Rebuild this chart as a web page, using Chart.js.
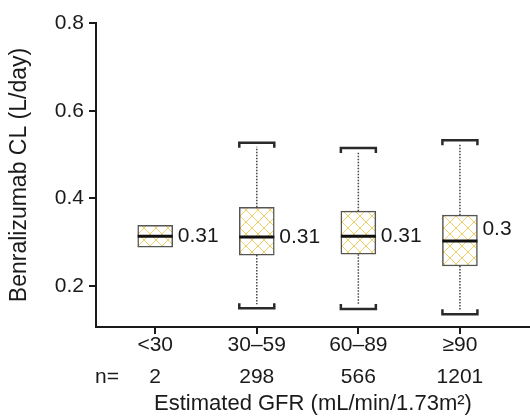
<!DOCTYPE html>
<html>
<head>
<meta charset="utf-8">
<script src="https://cdn.jsdelivr.net/npm/chart.js@4.4.1/dist/chart.umd.min.js"></script>
<style>
  body { margin: 0; background: #fff; }
  #wrap { width: 530px; height: 417px; }
</style>
</head>
<body>
<div id="wrap"><canvas id="clChart" width="530" height="417"></canvas></div>
<script>
// eGFR groups and number of patients
const categories = ['<30', '30–59', '60–89', '≥90'];
const counts = ['2', '298', '566', '1201'];

// box plot values (L/day)
const q1 = [0.289, 0.271, 0.273, 0.246];
const q3 = [0.339, 0.380, 0.371, 0.362];
const medians = [0.314, 0.312, 0.314, 0.303];
const whiskerLow = [null, 0.150, 0.148, 0.136];
const whiskerHigh = [null, 0.527, 0.515, 0.533];

// the printed median labels and where they sit
const medianLabels = ['0.31', '0.31', '0.31', '0.3'];
const labelPos = [0.314, 0.312, 0.314, 0.330];

const yTicks = [0.2, 0.4, 0.6, 0.8];

const FONT = "'Liberation Sans', Arial, sans-serif";
const INK = '#1a1a1a';

// yellow cross hatch for the boxes
function makeHatch() {
    const c = document.createElement('canvas');
    c.width = 12; c.height = 12;
    const g = c.getContext('2d');
    g.fillStyle = '#fff';
    g.fillRect(0, 0, 12, 12);
    g.strokeStyle = '#efcf6a';
    g.lineWidth = 1;
    g.beginPath();
    g.moveTo(0, 0); g.lineTo(12, 12);
    g.moveTo(12, 0); g.lineTo(0, 12);
    g.stroke();
    return g.createPattern(c, 'repeat');
}

// medians, whiskers, caps and value labels
const boxExtras = {
    id: 'boxExtras',
    afterDatasetsDraw(chart) {
        const ctx = chart.ctx;
        const xs = chart.scales.x, ys = chart.scales.y;
        const half = 17.5;
        ctx.save();
        categories.forEach((c, i) => {
            const x = xs.getPixelForValue(i + 1);

            if (whiskerHigh[i] !== null) {
                const yTop = ys.getPixelForValue(whiskerHigh[i]);
                const yBot = ys.getPixelForValue(whiskerLow[i]);
                ctx.strokeStyle = '#444';
                ctx.lineWidth = 1.5;
                ctx.setLineDash([1.5, 1.5]);
                ctx.beginPath();
                ctx.moveTo(x, ys.getPixelForValue(q3[i]));
                ctx.lineTo(x, yTop + 4);
                ctx.moveTo(x, ys.getPixelForValue(q1[i]));
                ctx.lineTo(x, yBot - 4);
                ctx.stroke();
                ctx.setLineDash([]);

                // bracket shaped caps
                ctx.strokeStyle = '#2a2a2a';
                ctx.lineWidth = 2.5;
                ctx.beginPath();
                ctx.moveTo(x - half, yTop + 5);
                ctx.lineTo(x - half, yTop);
                ctx.lineTo(x + half, yTop);
                ctx.lineTo(x + half, yTop + 5);
                ctx.moveTo(x - half, yBot - 5);
                ctx.lineTo(x - half, yBot);
                ctx.lineTo(x + half, yBot);
                ctx.lineTo(x + half, yBot - 5);
                ctx.stroke();
            }

            const ym = ys.getPixelForValue(medians[i]);
            ctx.strokeStyle = '#111';
            ctx.lineWidth = 3;
            ctx.beginPath();
            ctx.moveTo(x - half, ym);
            ctx.lineTo(x + half, ym);
            ctx.stroke();

            ctx.fillStyle = INK;
            ctx.font = '21px ' + FONT;
            ctx.textBaseline = 'middle';
            ctx.textAlign = 'left';
            ctx.fillText(medianLabels[i], x + half + 5, ys.getPixelForValue(labelPos[i]));
        });

        // "n=" in front of the counts row
        ctx.font = '21px ' + FONT;
        ctx.textAlign = 'left';
        ctx.textBaseline = 'middle';
        ctx.fillText('n=', chart.chartArea.left - 1, xs.top + 50);
        ctx.restore();
    }
};

new Chart(document.getElementById('clChart'), {
    type: 'bar',
    data: {
        datasets: [{
            data: categories.map((c, i) => ({ x: i + 1, y: [q1[i], q3[i]] })),
            backgroundColor: makeHatch(),
            borderColor: '#555',
            borderWidth: 1.5,
            borderSkipped: false,
            barThickness: 35
        }]
    },
    options: {
        responsive: false,
        animation: false,
        layout: { padding: { top: 23, right: 0, bottom: 0, left: 0 } },
        plugins: {
            legend: { display: false },
            tooltip: { enabled: false }
        },
        scales: {
            x: {
                type: 'linear',
                offset: false,
                min: 0.417,
                max: 4.69,
                afterBuildTicks: s => { s.ticks = categories.map((c, i) => ({ value: i + 1 })); },
                afterFit: s => { s.height = 90; },
                grid: { offset: false, drawOnChartArea: false, drawTicks: true, tickLength: 7, color: INK, lineWidth: 2 },
                border: { display: true, color: INK, width: 2 },
                ticks: {
                    color: INK,
                    padding: -5,
                    maxRotation: 0,
                    font: { family: FONT, size: 21, lineHeight: 1.52 },
                    callback: (v, i) => [categories[i], counts[i]]
                },
                title: {
                    display: true,
                    text: 'Estimated GFR (mL/min/1.73m²)',
                    color: INK,
                    padding: { top: 0, bottom: 0 },
                    font: { family: FONT, size: 22 }
                }
            },
            y: {
                min: 0.107,
                max: 0.8,
                afterBuildTicks: s => { s.ticks = yTicks.map(v => ({ value: v })); },
                afterFit: s => { s.width = 96; },
                grid: { drawOnChartArea: false, drawTicks: true, tickLength: 7, color: INK, lineWidth: 2 },
                border: { display: true, color: INK, width: 2 },
                ticks: {
                    color: INK,
                    padding: 5,
                    font: { family: FONT, size: 21 },
                    callback: v => v.toFixed(1)
                },
                title: {
                    display: true,
                    text: 'Benralizumab CL (L/day)',
                    color: INK,
                    padding: { top: 6, bottom: 0 },
                    font: { family: FONT, size: 23 }
                }
            }
        }
    },
    plugins: [boxExtras]
});
</script>
</body>
</html>
